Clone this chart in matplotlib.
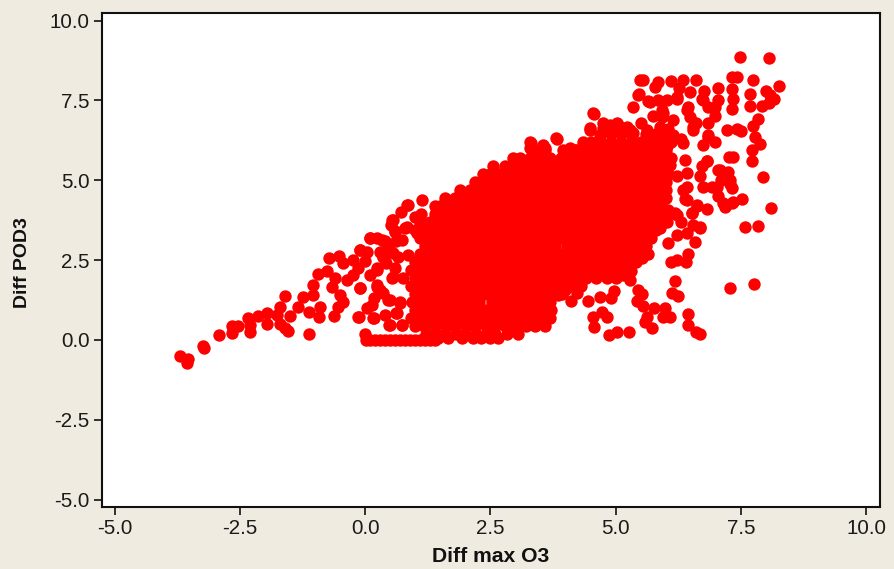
import matplotlib
matplotlib.use("Agg")
import matplotlib.pyplot as plt

# Points readable individually at the edges of the cloud
tail_x = [-3.69,-3.53,-3.56,-3.24,-3.22,-2.91,-2.65,-2.65,-2.53,-2.3,-2.33,-2.3,-2.13,-1.96,-1.96,-1.7,-1.6,-1.76,-1.5,-1.7,-1.53,-1.6,-1.34,-1.24,-1.04,-1.12,-1.12,-0.9,-0.92,-0.62,-0.54,-0.44,-0.5,-0.66,-1.04,-0.94,-0.76,-0.72,-0.52,-0.44,-0.6,-0.24,-0.1,0.04,-0.14,-0.24,-0.1,-0.36,0.24,0.1,0.24,0.36,0.1,-0.14,0.14,0.24,0.3,0.16,0.46,0.4,0.48,0.62,0.74,0.56,0.84,0.6,0.56,0.7,0.66,0.48,0.62,0.4,0.52,0.72,0.8,0.3,0.42]
tail_y = [-0.5,-0.6,-0.72,-0.18,-0.25,0.16,0.21,0.44,0.44,0.25,0.68,0.47,0.75,0.84,0.5,1.03,1.38,0.78,0.75,0.5,0.28,0.37,1.03,1.35,1.41,0.2,0.88,1.03,0.72,0.75,1.03,1.19,1.41,1.66,1.72,2.07,2.16,2.57,2.63,2.41,1.94,2.5,2.82,2.76,2.25,2.04,1.63,1.88,2.25,3.19,3.19,2.6,2.04,0.72,1.1,1.72,1.57,0.69,1.25,0.78,0.47,0.84,0.47,3.76,4.23,3.38,1.97,1.19,2.6,2.9,3.1,3.1,3.6,4.0,3.5,2.75,2.4]

base_x = [0.0,0.02,0.1,0.2,0.3,0.4,0.5,0.6,0.7,0.8,0.9,1.0,1.1,1.2,1.3,1.4]
base_y = [0.2,0.0,0.0,0.0,0.0,0.0,0.0,0.0,0.0,0.0,0.0,0.0,0.0,0.0,0.0,0.0]

upper_x = [7.49,8.06,7.33,7.42,7.75,8.26,5.49,5.55,5.85,5.79,6.11,6.35,6.61,6.27,5.47,5.65,5.35,5.85,6.23,6.49,6.77,7.05,7.33,7.68,8.0,8.08,8.16,8.06,7.92,7.68,7.33,7.35,7.05,6.99,6.99,6.85,6.45,6.73,6.85,5.93,5.93,6.15,6.49,6.55,7.23,7.43,7.5,7.84,7.75,7.78,7.88,7.72,7.72,7.27,7.35,6.85,6.99,6.75,7.94,6.83,6.73,6.09,7.05,7.25,7.29,7.33,7.05,7.53,7.33,7.19,8.1,6.83,6.63,6.53,6.39,6.19,7.58,7.84,6.69,6.55,6.75,6.43,6.93,7.1,4.57,4.75,4.49,4.89,5.05,5.29,4.19,3.83,3.31,3.59,6.05,6.3,6.6,5.5,5.75]
upper_y = [8.87,8.83,8.24,8.24,8.14,7.95,8.14,8.14,8.08,7.92,8.11,8.14,8.14,7.89,7.7,7.49,7.3,7.52,7.55,7.77,7.8,7.89,7.86,7.7,7.8,7.67,7.55,7.42,7.33,7.33,7.23,7.55,7.52,7.3,7.02,6.8,7.3,7.55,7.3,7.2,6.98,6.89,6.98,6.58,6.58,6.61,6.55,6.92,6.7,6.36,6.14,5.95,5.61,5.73,5.73,6.42,6.2,6.11,5.1,5.61,5.45,5.48,5.32,5.26,5.01,4.76,4.51,4.42,4.29,4.17,4.13,4.1,4.2,3.98,4.42,3.98,3.54,3.57,3.54,3.6,4.79,4.79,4.79,5.0,7.08,6.64,6.58,6.73,6.73,6.58,5.95,6.3,6.17,6.0,6.6,6.3,6.8,6.8,7.0]

lower_x = [7.29,7.76,6.69,6.59,6.43,6.23,6.05,6.45,6.41,6.23,6.11,6.19,6.13,6.25,6.45,6.45,6.61,6.69,6.09,5.99,5.95,5.77,5.63,5.59,5.73,5.55,5.43,5.53,5.45,5.27,5.03,4.87,4.83,4.73,4.55,4.57,4.45,4.69,4.91,4.97,4.11,4.23,5.29,5.31,5.15,5.53,5.65,5.57,5.89,3.85,3.99,6.3,6.0,5.75]
lower_y = [1.63,1.75,3.5,3.07,3.35,3.29,3.04,2.69,2.44,2.51,2.44,1.85,1.47,1.38,0.81,0.47,0.25,0.19,0.72,1.0,0.72,1.0,0.72,0.56,0.37,1.06,1.22,1.44,1.57,0.25,0.25,0.16,0.72,0.88,0.72,0.41,1.22,1.35,1.32,1.53,1.22,1.47,1.88,2.16,2.04,2.57,2.69,3.04,3.5,1.41,1.57,3.7,3.9,3.6]

# Extra points read from close-ups of the upper right and of the left flank
right_x = [5.95,6.42,6.75,6.22,6.55,6.35,6.38,6.42,6.85,6.68,7.08,7.02,7.28,6.82,6.22,6.35,6.05,6.22,6.42,6.62,6.52,7.15,7.35,5.88,5.62,5.35,5.02,4.75,5.22,4.49,4.55,3.82,3.56,3.29,3.29,4.09,4.35,4.69,6.15,6.02,5.68,6.02,5.45]
right_y = [7.1,7.2,7.52,7.62,6.68,6.16,5.64,5.22,6.37,5.12,5.33,4.8,4.9,5.59,5.12,4.7,4.07,3.92,4.39,4.23,3.97,4.28,4.33,6.68,6.58,6.47,6.79,6.79,6.68,6.63,7.1,6.32,6.11,6.21,6.0,6.0,6.21,6.42,6.42,6.06,7.46,7.52,7.67]
left_x = [0.85,1.13,0.53,0.6,0.1,0.33,-0.1,0.0,0.23,0.36,0.56,0.86,0.6,0.53,-0.1,0.23,0.36,0.5,0.7,0.17,0.03,-0.13,0.17,0.5,0.73,0.63,1.1,1.03,0.83,1.0,0.73,0.76]
left_y = [4.23,4.39,3.76,3.4,3.19,3.13,2.82,2.46,2.2,2.61,2.72,2.66,2.25,1.93,1.62,1.67,1.46,1.26,1.15,1.31,1.0,0.73,0.68,0.47,0.47,0.84,2.61,3.34,3.55,3.86,3.13,1.93]

# Solid part of the cloud, read row by row
dense_y = [0.05,0.2,0.45,0.7,0.95,1.2,1.45,1.7,1.95,2.2,2.45,2.7,2.95,3.2,3.45,3.7,3.95,4.2,4.45,4.7,4.95,5.2,5.45,5.7,5.95,6.2,6.45]
dense_x = [
 [1.45,1.65,1.93,2.15,2.31,2.5,2.65],
 [1.22,1.41,1.6,1.82,2.0,2.21,2.42,2.6,2.83,3.05],
 [1.0,1.18,1.4,1.61,1.79,2.02,2.2,2.41,2.6,2.79,3.0,3.22,3.4,3.59],
 [0.92,1.11,1.29,1.52,1.7,1.91,2.1,2.29,2.5,2.72,2.9,3.11,3.3,3.52,3.69],
 [1.0,1.21,1.4,1.6,1.81,2.02,2.2,2.41,2.6,2.82,3.0,3.2,3.41,3.6,3.72],
 [0.93,1.1,1.32,1.5,1.7,1.92,2.1,2.28,2.53,2.7,2.91,3.1,3.3,3.5,3.69],
 [1.0,1.2,1.41,1.6,1.82,2.0,2.2,2.42,2.6,2.8,3.02,3.2,3.4,3.6,3.8,3.92],
 [0.92,1.1,1.3,1.5,1.72,1.9,2.12,2.31,2.52,2.7,2.9,3.1,3.31,3.5,3.7,3.9,4.1,4.3],
 [1.0,1.2,1.4,1.61,1.8,2.0,2.22,2.4,2.6,2.81,3.0,3.2,3.4,3.62,3.8,4.0,4.2,4.41,4.6,4.82,5.0],
 [0.91,1.1,1.3,1.52,1.7,1.9,2.1,2.32,2.5,2.7,2.9,3.12,3.3,3.5,3.72,3.9,4.1,4.3,4.5,4.72,4.9,5.1,5.2],
 [1.0,1.2,1.41,1.6,1.8,2.02,2.2,2.4,2.6,2.82,3.0,3.2,3.4,3.6,3.82,4.0,4.2,4.4,4.6,4.81,5.0,5.22,5.4],
 [1.1,1.3,1.5,1.7,1.92,2.1,2.3,2.52,2.7,2.9,3.1,3.3,3.52,3.7,3.9,4.12,4.3,4.5,4.7,4.9,5.12,5.3,5.5],
 [1.2,1.4,1.6,1.82,2.0,2.2,2.41,2.6,2.8,3.02,3.2,3.4,3.6,3.8,4.02,4.2,4.4,4.6,4.8,5.0,5.2,5.4,5.6],
 [1.1,1.3,1.5,1.71,1.9,2.1,2.3,2.5,2.72,2.9,3.1,3.3,3.5,3.7,3.91,4.1,4.3,4.5,4.7,4.92,5.1,5.3,5.5,5.7],
 [1.0,1.2,1.42,1.6,1.8,2.0,2.2,2.4,2.62,2.8,3.0,3.2,3.4,3.6,3.8,4.0,4.22,4.4,4.6,4.8,5.0,5.2,5.4,5.6,5.8],
 [1.1,1.3,1.5,1.72,1.9,2.1,2.3,2.5,2.7,2.9,3.12,3.3,3.5,3.7,3.9,4.1,4.3,4.5,4.7,4.9,5.1,5.3,5.5,5.7,5.9,6.02],
 [1.12,1.4,1.6,1.8,2.0,2.22,2.4,2.6,2.8,3.0,3.2,3.4,3.6,3.8,4.0,4.2,4.4,4.62,4.8,5.0,5.2,5.4,5.6,5.8,6.0],
 [1.4,1.5,1.7,1.9,2.1,2.3,2.52,2.7,2.9,3.1,3.3,3.5,3.7,3.9,4.1,4.3,4.5,4.7,4.9,5.1,5.3,5.5,5.7,5.9],
 [1.6,1.8,2.0,2.2,2.4,2.6,2.8,3.0,3.2,3.4,3.6,3.8,4.0,4.2,4.4,4.6,4.8,5.0,5.2,5.4,5.6,5.8,6.0],
 [1.9,2.1,2.3,2.5,2.7,2.9,3.1,3.3,3.5,3.7,3.9,4.1,4.3,4.5,4.7,4.9,5.1,5.3,5.5,5.7,5.9,6.0],
 [2.2,2.4,2.6,2.8,3.0,3.2,3.4,3.6,3.8,4.0,4.2,4.4,4.6,4.8,5.0,5.2,5.4,5.6,5.8,6.0],
 [2.35,2.5,2.7,2.9,3.1,3.3,3.5,3.7,3.9,4.1,4.3,4.5,4.7,4.9,5.1,5.3,5.5,5.7,5.9,6.05],
 [2.55,2.8,3.0,3.2,3.4,3.6,3.8,4.0,4.2,4.4,4.6,4.8,5.0,5.2,5.4,5.6,5.8,6.0],
 [2.95,3.1,3.3,3.5,3.7,3.9,4.1,4.3,4.5,4.7,4.9,5.1,5.3,5.5,5.7,5.9,6.1],
 [3.4,3.6,3.95,4.2,4.4,4.6,4.8,5.0,5.2,5.4,5.6,5.8,6.0],
 [4.5,4.7,4.9,5.1,5.3,5.5,5.7,5.9,6.1],
 [4.9,5.1,5.3,5.6,5.8,6.0],
]

x_ticks = [-5.0,-2.5,0.0,2.5,5.0,7.5,10.0]
y_ticks = [-5.0,-2.5,0.0,2.5,5.0,7.5,10.0]
x_label = "Diff max O3"
y_label = "Diff POD3"

plt.rcParams['font.family'] = ['Liberation Sans', 'DejaVu Sans']
W, H = 894, 569
fig = plt.figure(figsize=(W/100, H/100), dpi=100, facecolor='#EFEBE0')
ax = fig.add_axes([101.5/W, 1-507/H, (879.7-101.5)/W, (507-13)/H], facecolor='white')

xs = tail_x + base_x + upper_x + lower_x + right_x + left_x
ys = tail_y + base_y + upper_y + lower_y + right_y + left_y
for y, row in zip(dense_y, dense_x):
    xs = xs + row
    ys = ys + [y]*len(row)
ax.scatter(xs, ys, s=80, c='#FF0000', linewidths=0, clip_on=True, zorder=3)

ax.set_xlim(-5.26, 10.27)
ax.set_ylim(-5.23, 10.24)
ax.set_xticks(x_ticks)
ax.set_yticks(y_ticks)
ax.set_xticklabels([f"{v:.1f}" for v in x_ticks])
ax.set_yticklabels([f"{v:.1f}" for v in y_ticks])
ax.tick_params(axis='both', length=5.5, width=1.2, color='#111111', labelsize=14.8, labelcolor='#1a1a1a', pad=3)
for s in ax.spines.values():
    s.set_linewidth(1.5)
    s.set_color('#111111')
fig.text(491/W, 1-557/H, x_label, fontsize=15.2, fontweight='bold', ha='center', va='center', color='#111111')
fig.text(23/W, 1-263/H, y_label, fontsize=14, fontweight='bold', ha='center', va='center', rotation=90, color='#111111')
fig.savefig('out.png', dpi=100, facecolor=fig.get_facecolor())
